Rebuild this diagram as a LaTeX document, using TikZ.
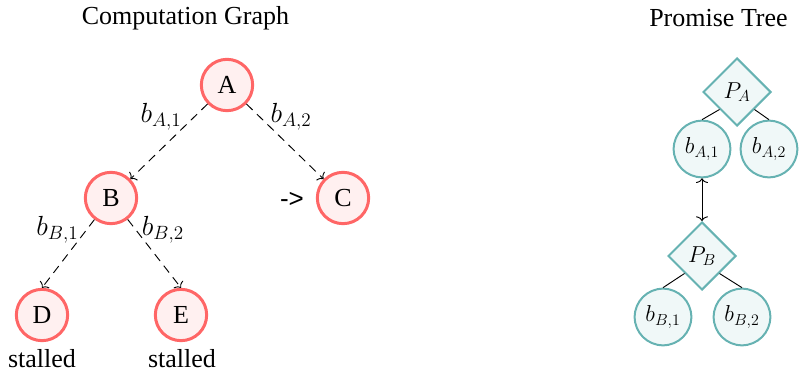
\documentclass[tikz,border=0pt]{standalone}
\usepackage{fontspec}
\setmainfont{Liberation Serif}
\newfontfamily\arrowfont{Liberation Sans}
\usetikzlibrary{arrows.meta,shapes.geometric}
\definecolor{cgred}{HTML}{FF6666}
\definecolor{cgfill}{HTML}{FFF0F0}
\definecolor{ptteal}{HTML}{66B2B2}
\definecolor{ptfill}{HTML}{F0F8F8}
\begin{document}
\begin{tikzpicture}[x=0.75pt,y=-0.75pt,
  every node/.style={font=\rmfamily\fontsize{19.5}{23}\selectfont},
  cgnode/.style={circle,draw=cgred,fill=cgfill,line width=2.25pt,minimum size=38.5pt,inner sep=0pt},
  ptcirc/.style={circle,draw=ptteal,fill=ptfill,line width=1.5pt,minimum size=42.5pt,inner sep=0pt,font=\fontsize{18}{21}\selectfont},
  ptdiam/.style={diamond,aspect=1,draw=ptteal,fill=ptfill,line width=1.5pt,minimum width=51pt,minimum height=51pt,inner sep=0pt,font=\fontsize{18}{21}\selectfont},
  cgedge/.style={line width=0.7pt,dash pattern=on 6.5pt off 4.5pt,-{To[length=3.5pt,width=9pt]}},
  ptline/.style={line width=0.7pt},
  ptarrow/.style={line width=0.7pt,{To[length=3.5pt,width=9pt]}-{To[length=3.5pt,width=9pt]}},
  lbl/.style={inner sep=0pt}
]
\useasboundingbox (0,0) rectangle (801,374);

% Computation graph
\node[lbl] (t1) at (185.5,18) {Computation Graph};
\node[cgnode] (A) at (227,85) {A};
\node[cgnode] (B) at (111,198) {B};
\node[cgnode] (C) at (343,198) {C};
\node[cgnode] (D) at (42,315) {D};
\node[cgnode] (E) at (181,315) {E};
\node[lbl] (s1) at (42,359) {stalled};
\node[lbl] (s2) at (182,359) {stalled};
\node[lbl,font=\arrowfont\fontsize{19.5}{23}\selectfont] (arr) at (292,200) {->};

\draw[cgedge] (A) -- (B);
\draw[cgedge] (A) -- (C);
\draw[cgedge] (B) -- (D.north);
\draw[cgedge] (B) -- (E.north);

\node[lbl] (lA1) at (161,117) {$b_{A,1}$};
\node[lbl] (lA2) at (291,117) {$b_{A,2}$};
\node[lbl] (lB1) at (57.5,230) {$b_{B,1}$};
\node[lbl] (lB2) at (163,230) {$b_{B,2}$};

% Promise tree
\node[lbl] (t2) at (718.5,18) {Promise Tree};
\node[ptdiam] (PA) at (737,92) {$P_A$};
\node[ptcirc] (bA1) at (702,149) {$b_{A,1}$};
\node[ptcirc] (bA2) at (769,149) {$b_{A,2}$};
\node[ptdiam] (PB) at (702,256) {$P_B$};
\node[ptcirc] (bB1) at (663,317) {$b_{B,1}$};
\node[ptcirc] (bB2) at (742,317) {$b_{B,2}$};

\draw[ptline] (PA.south west) -- (bA1.north);
\draw[ptline] (PA.south east) -- (bA2.north);
\draw[ptline] (PB.south west) -- (bB1.north);
\draw[ptline] (PB.south east) -- (bB2.north);
\draw[ptarrow] (bA1.south) -- (PB.north);
\end{tikzpicture}
\end{document}
